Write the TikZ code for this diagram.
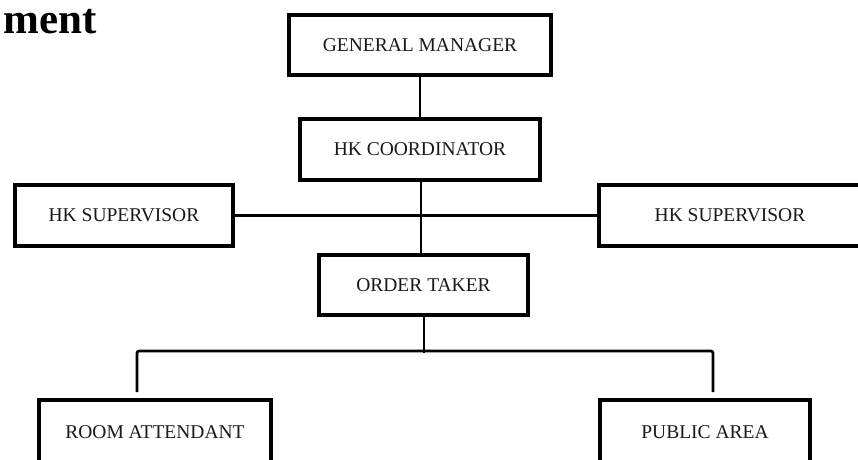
\documentclass[tikz,border=0pt]{standalone}
\usepackage{fontspec}
\setmainfont{Liberation Serif}
\begin{document}
\begin{tikzpicture}[x=1pt,y=-1pt,
  orgbox/.style={draw=black,line width=4pt,rectangle,fill=white,inner sep=0pt,
     font=\fontsize{19.5}{22}\selectfont,text=black!90},
  link/.style={draw=black,line width=2.6pt}]
\useasboundingbox (0,0) rectangle (858,459);
\clip (0,0) rectangle (858,459);
\node[anchor=base west,font=\fontsize{43}{48}\selectfont\bfseries] (title) at (0,33) {ment};
\node[orgbox,minimum width=262pt,minimum height=60pt] (gm) at (420,45) {GENERAL MANAGER};
\node[orgbox,minimum width=240pt,minimum height=61pt] (hkc) at (420,149.5) {HK COORDINATOR};
\node[orgbox,minimum width=218pt,minimum height=61pt] (hksl) at (124,215.5) {HK SUPERVISOR};
\node[orgbox,minimum width=262pt,minimum height=61pt] (hksr) at (730,215.5) {HK SUPERVISOR};
\node[orgbox,minimum width=209pt,minimum height=60pt] (ot) at (423.5,285) {ORDER TAKER};
\node[orgbox,minimum width=232pt,minimum height=64pt] (ra) at (155,432) {ROOM ATTENDANT};
\node[orgbox,minimum width=210pt,minimum height=64pt] (pa) at (705,432) {PUBLIC AREA};
\coordinate (busl) at (137,351);
\coordinate (busr) at (713,351);
\coordinate (busm) at (424,353);
\coordinate (ral) at (137,392);
\coordinate (pal) at (713,392);
\begin{scope}[on background layer/.style={}]
\draw[link] (gm.south) -- (hkc.north);
\draw[link] (hkc.south -| 421,0) -- (ot.north -| 421,0);
\draw[link] (hksl.east) -- (hksr.west);
\draw[link] (ot.south -| busm) -- (busm);
\draw[link,rounded corners=2pt] (ral) -- (busl) -- (busr) -- (pal);
\end{scope}
\end{tikzpicture}
\end{document}
